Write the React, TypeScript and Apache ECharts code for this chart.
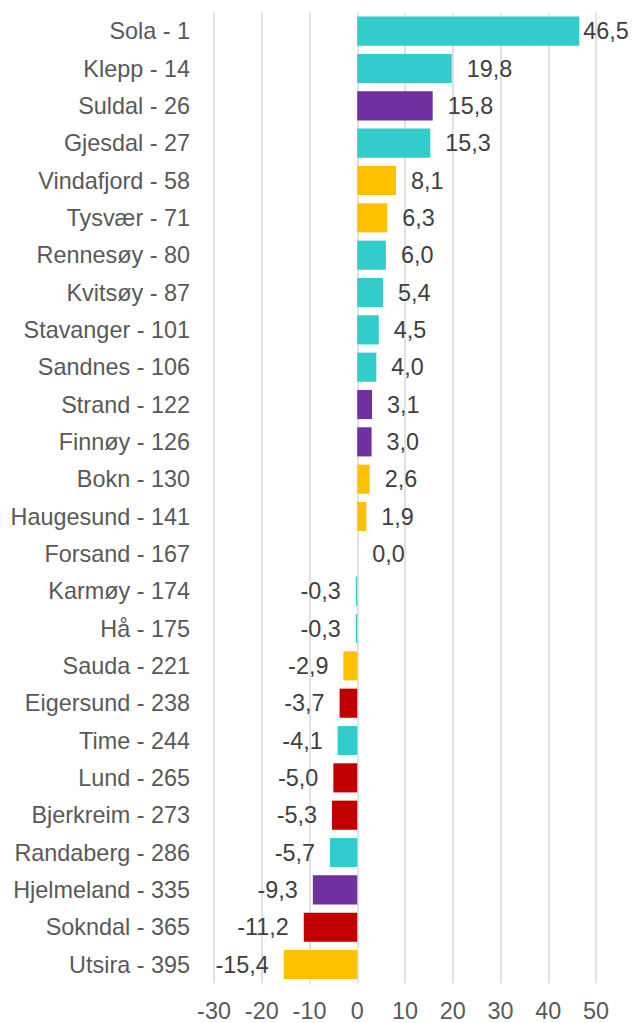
import React, { useEffect, useRef } from "react";
import * as echarts from "echarts";

const categories = [
  "Sola - 1", "Klepp - 14", "Suldal - 26", "Gjesdal - 27", "Vindafjord - 58", "Tysvær - 71",
  "Rennesøy - 80", "Kvitsøy - 87", "Stavanger - 101", "Sandnes - 106", "Strand - 122",
  "Finnøy - 126", "Bokn - 130", "Haugesund - 141", "Forsand - 167", "Karmøy - 174",
  "Hå - 175", "Sauda - 221", "Eigersund - 238", "Time - 244", "Lund - 265",
  "Bjerkreim - 273", "Randaberg - 286", "Hjelmeland - 335", "Sokndal - 365", "Utsira - 395",
];
const values = [
  46.5, 19.8, 15.8, 15.3, 8.1, 6.3, 6.0, 5.4, 4.5, 4.0, 3.1, 3.0, 2.6, 1.9, 0.0,
  -0.3, -0.3, -2.9, -3.7, -4.1, -5.0, -5.3, -5.7, -9.3, -11.2, -15.4,
];
const regions = [
  "J", "J", "R", "J", "H", "H", "J", "J", "J", "J", "R", "R", "H", "H", "R",
  "J", "J", "H", "D", "J", "D", "D", "J", "R", "D", "H",
];
const regionColors: Record<string, string> = {
  J: "#33CCCC",
  R: "#7030A0",
  H: "#FFC000",
  D: "#C00000",
};
const xTicks = { min: -30, max: 50, interval: 10 };

export default function App() {
  const ref = useRef<HTMLDivElement>(null);
  useEffect(() => {
    document.body.style.margin = "0";
    const chart = echarts.init(ref.current!, null, { renderer: "svg" });
    const font = "'Liberation Sans', Arial, sans-serif";
    const data = values.map((v, i) => ({
      value: v,
      itemStyle: { color: regionColors[regions[i]] },
      label: {
        position: v < 0 ? "left" : "right",
        distance: i === 0 ? 4 : 15,
      },
    }));
    chart.setOption({
      animation: false,
      backgroundColor: "#ffffff",
      grid: { left: 214, right: 37, top: 12.5, bottom: 39.8, containLabel: false },
      xAxis: {
        type: "value",
        min: xTicks.min,
        max: xTicks.max,
        interval: xTicks.interval,
        axisLine: { show: false },
        axisTick: { show: false },
        splitLine: { show: true, lineStyle: { color: "#D9D9D9", width: 1.5 } },
        axisLabel: { color: "#595959", fontSize: 23.4, fontFamily: font, margin: 16 },
      },
      yAxis: {
        type: "category",
        data: categories,
        inverse: true,
        axisLine: { show: false },
        axisTick: { show: false },
        splitLine: { show: false },
        axisLabel: { color: "#595959", fontSize: 23.4, fontFamily: font, margin: 24 },
      },
      series: [
        {
          type: "bar",
          data,
          barCategoryGap: "22%",
          label: {
            show: true,
            color: "#404040",
            fontSize: 23.4,
            fontFamily: font,
            formatter: (p: any) => Number(p.value).toFixed(1).replace(".", ","),
          },
        },
      ],
    });
    return () => chart.dispose();
  }, []);
  return <div ref={ref} style={{ width: 633, height: 1023 }} />;
}
